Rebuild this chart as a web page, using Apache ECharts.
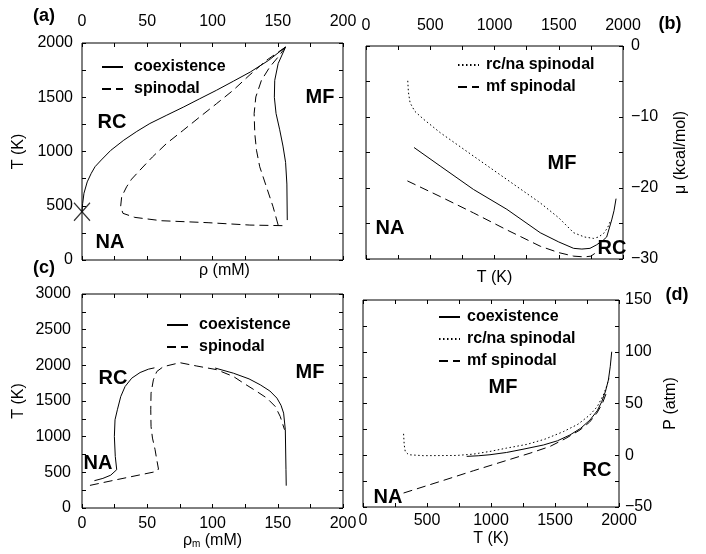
<!DOCTYPE html>
<html>
<head>
<meta charset="utf-8">
<script src="https://cdn.jsdelivr.net/npm/echarts@6/dist/echarts.min.js"></script>
<style>
  html, body { margin: 0; padding: 0; background: #fff; }
  #main { width: 706px; height: 554px; }
</style>
</head>
<body>
<div id="main"></div>
<script>
// (a) T vs rho
const aCoexRho = [0, 0.5, 1.5, 4, 7.1, 10, 14.8, 22, 32, 42, 52, 65, 78, 90, 103, 116, 129, 143, 156, 150.3, 147.7, 147.4, 148.7, 151.5, 154, 156, 157, 157.3]
const aCoexT = [445, 520, 615, 720, 799, 860, 922, 1010, 1104, 1185, 1258, 1335, 1411, 1485, 1564, 1648, 1733, 1840, 1963, 1810, 1656, 1500, 1350, 1200, 1050, 900, 700, 368]
const aSpinRho = [156, 141.3, 128, 115.8, 103, 90.3, 77.5, 64.8, 54, 44.4, 38, 34.2, 30.4, 29.6, 31.4, 40.4, 60.8, 96.6, 128.6, 156]
const aSpinT = [1963, 1840, 1700, 1564, 1440, 1319, 1195, 1074, 950, 828, 745, 675, 583, 491, 430, 393, 362, 344, 322, 316]
const aSpin2Rho = [150.3, 146.4, 141.3, 136.2, 133.7, 132.4, 131.9, 133.2, 137.5, 143.9, 150.3, 156]
const aSpin2T = [322, 491, 675, 859, 1012, 1166, 1350, 1503, 1656, 1779, 1871, 1963]
const aCross = [[0, 445]]

// (b) mu vs T
const bDotT = [325, 330, 343, 380, 447, 577, 836, 1096, 1356, 1500, 1616, 1700, 1771, 1810, 1849, 1880, 1901]
const bDotMu = [-4.9, -6.5, -8.0, -9.2, -10.3, -12.2, -15.5, -18.8, -22.1, -24.2, -26.3, -26.9, -27.1, -26.9, -26.4, -25.6, -24.7]
const bCoexT = [374, 577, 836, 1096, 1356, 1500, 1616, 1680, 1743, 1795, 1849, 1873, 1912, 1930, 1946]
const bCoexMu = [-14.3, -16.9, -20.2, -23.0, -26.3, -27.6, -28.5, -28.6, -28.5, -28.0, -27.3, -26.9, -24.5, -23.2, -21.5]
const bMfT = [322, 577, 836, 1096, 1356, 1500, 1616, 1700, 1750, 1790]
const bMfMu = [-19.0, -21.2, -23.5, -25.9, -28.2, -29.1, -29.6, -29.7, -29.6, -29.1]

// (c) T vs rho_m
const cCoexLRho = [9.5, 16, 22, 26.6, 25.5, 24.8, 25.3, 27.1, 29.7, 33, 38.1, 44.5, 50.9, 55.5]
const cCoexLT = [383, 415, 460, 537, 723, 1003, 1237, 1377, 1563, 1703, 1820, 1899, 1946, 1965]
const cCoexRRho = [102, 116, 128, 136.6, 144, 149.4, 152.5, 154.5, 155.8, 156.3, 156.5]
const cCoexRT = [1962, 1890, 1810, 1727, 1640, 1540, 1440, 1330, 1097, 537, 313]
const cSpinRho = [6.1, 26.6, 57.3, 58.6, 57.3, 56, 54, 52.9, 52.7, 52.9, 54.7, 57.3, 62.3, 75, 88, 103, 116.1, 123.8, 134, 141.7, 148.1, 151.9, 155.2]
const cSpinT = [317, 397, 513, 546, 677, 817, 980, 1143, 1377, 1610, 1797, 1913, 1981, 2037, 1990, 1940, 1843, 1750, 1633, 1540, 1423, 1283, 1097]

// (d) P vs T
const dCoexT = [810, 900, 992, 1122, 1250, 1409, 1520, 1617, 1700, 1773, 1830, 1865, 1895, 1917, 1932, 1943]
const dCoexP = [-1.1, -0.5, 0.5, 2.7, 5.8, 9.9, 14, 19.6, 26, 34, 43, 51.7, 62, 72.7, 86, 100]
const dDotT = [317, 322, 330, 356, 473, 732, 862, 992, 1122, 1280, 1420, 1565, 1680, 1773, 1830, 1877, 1905, 1925]
const dDotP = [20.7, 10, 3.7, 0.5, -0.4, -0.2, 1.1, 3.7, 6.9, 10.5, 15.5, 22.8, 30, 39, 47, 58, 67, 76]
const dMfT = [317, 603, 862, 1122, 1305, 1461, 1580, 1695, 1770, 1826, 1870, 1910]
const dMfP = [-36.5, -25.3, -15, -5, 2, 8.5, 16, 24.4, 32, 40.5, 50, 63]

const font = 'Liberation Sans, Arial, sans-serif'

const grids = [
  {left: 82, top: 43, width: 261, height: 217},
  {left: 366, top: 46, width: 257, height: 213},
  {left: 82, top: 294, width: 261, height: 214},
  {left: 363, top: 300, width: 256, height: 207}
]

function zip (xs, ys) {
  return xs.map((x, i) => [x, ys[i]])
}

function minus (v) {
  return v < 0 ? '\u2212' + Math.abs(v) : String(v)
}

// axis that only carries labels and name, the frame comes from the grid border
function labelAxis (grid, pos, min, max, step, label, margin, name, nameGap, extra) {
  let ax = {
    type: 'value',
    gridIndex: grid,
    position: pos,
    min: min,
    max: max,
    interval: step,
    axisLine: {show: false, onZero: false},
    axisTick: {show: false},
    splitLine: {show: false},
    axisLabel: {
      show: label,
      color: '#000',
      fontSize: 16,
      fontFamily: font,
      margin: margin,
      showMinLabel: true,
      showMaxLabel: true,
      formatter: minus
    }
  }
  if (name) {
    ax.name = name
    ax.nameLocation = 'middle'
    ax.nameGap = nameGap
    ax.nameTextStyle = {color: '#000', fontSize: 16, fontFamily: font}
    if (pos === 'left' || pos === 'right') ax.nameRotate = 90
  }
  return Object.assign(ax, extra || {})
}

// inside ticks are not drawn, so put an axis on the opposite side and pull it across the grid
function tickAxis (grid, pos, min, max, step, offset) {
  return {
    type: 'value',
    gridIndex: grid,
    position: pos,
    offset: offset,
    min: min,
    max: max,
    interval: step,
    axisLine: {show: false, onZero: false},
    axisLabel: {show: false},
    splitLine: {show: false},
    axisTick: {show: true, inside: false, length: 4, lineStyle: {color: '#000', width: 1}},
    minorTick: {show: true, splitNumber: 2, length: 4, lineStyle: {color: '#000', width: 1}}
  }
}

function xAxes (g, min, max, step, labelAx) {
  return [labelAx, tickAxis(g, 'top', min, max, step, -grids[g].height), tickAxis(g, 'bottom', min, max, step, -grids[g].height)]
}

function yAxes (g, min, max, step, labelAx) {
  return [labelAx, tickAxis(g, 'right', min, max, step, -grids[g].width), tickAxis(g, 'left', min, max, step, -grids[g].width)]
}

function line (name, data, grid, type) {
  return {
    name: name,
    type: 'line',
    data: data,
    xAxisIndex: grid * 3,
    yAxisIndex: grid * 3,
    symbol: 'none',
    showSymbol: false,
    silent: true,
    lineStyle: {color: '#000', width: 1, type: type},
    itemStyle: {color: '#000'}
  }
}

function tag (text, x, y, size) {
  return {
    type: 'text',
    x: x,
    y: y,
    silent: true,
    style: {
      text: text,
      font: 'bold ' + size + 'px ' + font,
      fill: '#000',
      align: 'center',
      verticalAlign: 'middle'
    }
  }
}

function legend (names, left, top, pad) {
  return {
    data: names,
    orient: 'vertical',
    left: left,
    top: top,
    itemWidth: 21,
    itemHeight: 14,
    itemGap: 6,
    selectedMode: false,
    itemStyle: {color: 'rgba(0,0,0,0)', borderColor: 'rgba(0,0,0,0)', borderWidth: 0},
    textStyle: {color: '#000', fontSize: 16, fontWeight: 'bold', fontFamily: font, padding: [0, 0, 0, pad]}
  }
}

const dash = [9, 5]
const dot = [1.5, 2.5]

let myChart = echarts.init(document.getElementById('main'))
let option = {
  animation: false,
  backgroundColor: '#fff',
  grid: grids.map((g) => Object.assign({show: true, borderColor: '#000', borderWidth: 1, backgroundColor: 'transparent'}, g)),
  xAxis: [].concat(
    xAxes(0, 0, 200, 50, labelAxis(0, 'top', 0, 200, 50, true, 13, 'ρ (mM)', -236, {
      nameTextStyle: {color: '#000', fontSize: 16, fontFamily: font, padding: [0, 0, 0, 24]}
    })),
    xAxes(1, 0, 2000, 500, labelAxis(1, 'top', 0, 2000, 500, true, 12, 'T (K)', -240)),
    xAxes(2, 0, 200, 50, labelAxis(2, 'bottom', 0, 200, 50, true, 8, 'ρ{sub|m} (mM)', 24, {
      nameTextStyle: {color: '#000', fontSize: 16, fontFamily: font, rich: {sub: {fontSize: 10, fontFamily: font, color: '#000', verticalAlign: 'bottom'}}}
    })),
    xAxes(3, 0, 2000, 500, labelAxis(3, 'bottom', 0, 2000, 500, true, 6, 'T (K)', 24))
  ),
  yAxis: [].concat(
    yAxes(0, 0, 2000, 500, labelAxis(0, 'left', 0, 2000, 500, true, 9, 'T (K)', 55)),
    yAxes(1, -30, 0, 10, labelAxis(1, 'right', -30, 0, 10, true, 8, 'μ (kcal/mol)', 50)),
    yAxes(2, 0, 3000, 500, labelAxis(2, 'left', 0, 3000, 500, true, 11, 'T (K)', 55)),
    yAxes(3, -50, 150, 50, labelAxis(3, 'right', -50, 150, 50, true, 6, 'P (atm)', 44))
  ),
  legend: [
    legend(['coexistence', 'spinodal'], 96, 54, 6),
    legend(['rc/na spinodal', 'mf spinodal'], 452, 52, 2),
    legend(['coexistence', 'spinodal'], 161, 312, 6),
    legend(['coexistence', 'rc/na spinodal', 'mf spinodal'], 433, 304, 2)
  ],
  series: [
    line('coexistence', zip(aCoexRho, aCoexT), 0, 'solid'),
    line('spinodal', zip(aSpinRho, aSpinT), 0, dash),
    line('spinodal', zip(aSpin2Rho, aSpin2T), 0, dash),
    {
      type: 'scatter',
      data: aCross,
      xAxisIndex: 0,
      yAxisIndex: 0,
      clip: false,
      silent: true,
      symbol: 'path://M0,0L10,10M10,0L0,10',
      symbolSize: [16, 18],
      itemStyle: {color: 'none', borderColor: '#000', borderWidth: 1.3}
    },
    line('coexistence', zip(bCoexT, bCoexMu), 1, 'solid'),
    line('rc/na spinodal', zip(bDotT, bDotMu), 1, dot),
    line('mf spinodal', zip(bMfT, bMfMu), 1, dash),
    line('coexistence', zip(cCoexLRho, cCoexLT), 2, 'solid'),
    line('coexistence', zip(cCoexRRho, cCoexRT), 2, 'solid'),
    line('spinodal', zip(cSpinRho, cSpinT), 2, dash),
    line('coexistence', zip(dCoexT, dCoexP), 3, 'solid'),
    line('rc/na spinodal', zip(dDotT, dDotP), 3, dot),
    line('mf spinodal', zip(dMfT, dMfP), 3, dash)
  ],
  graphic: [
    tag('(a)', 44, 16, 18),
    tag('(b)', 670, 24, 18),
    tag('(c)', 44, 268, 18),
    tag('(d)', 677, 295, 18),
    tag('RC', 112, 122, 20),
    tag('NA', 110, 242, 20),
    tag('MF', 320, 97, 20),
    tag('MF', 562, 163, 20),
    tag('NA', 390, 228, 20),
    tag('RC', 612, 248, 20),
    tag('RC', 113, 378, 20),
    tag('NA', 98, 463, 20),
    tag('MF', 310, 372, 20),
    tag('MF', 503, 387, 20),
    tag('RC', 597, 470, 20),
    tag('NA', 388, 497, 20)
  ]
}
myChart.setOption(option)
</script>
</body>
</html>
